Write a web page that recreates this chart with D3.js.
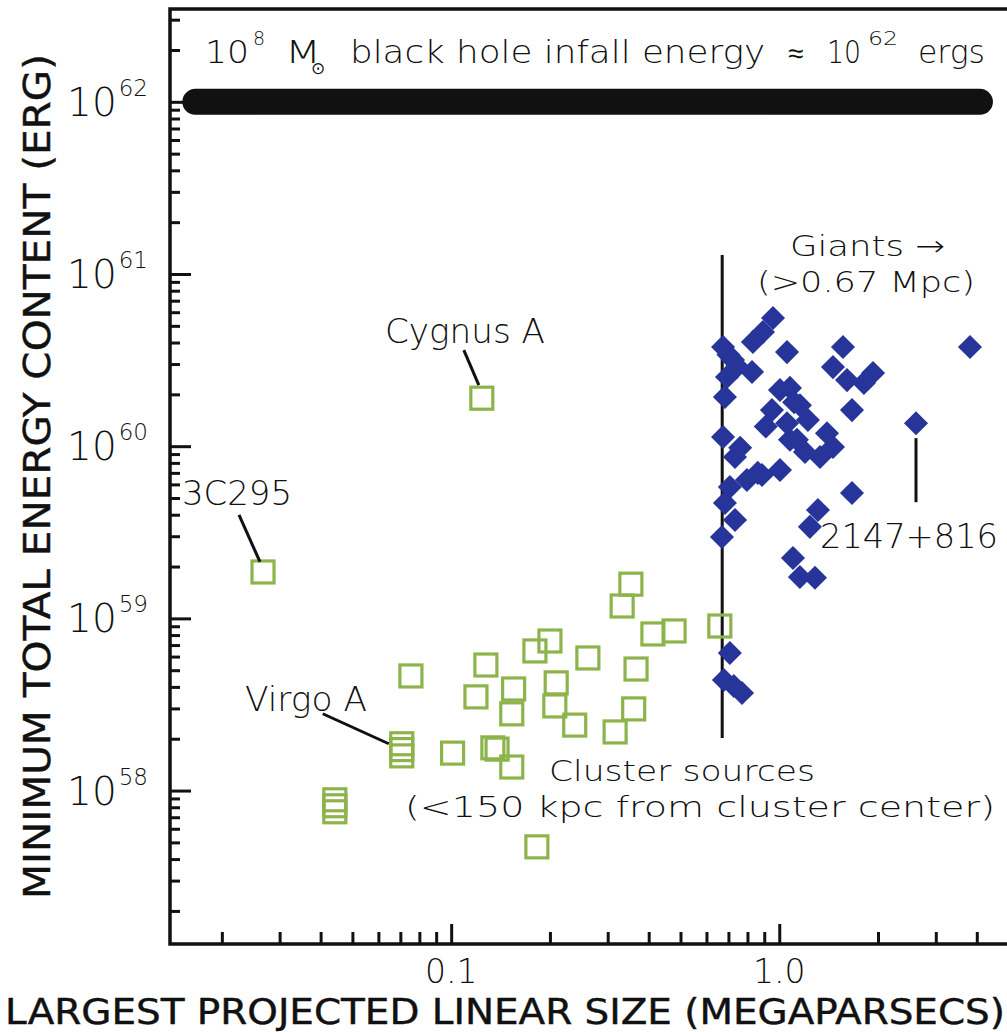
<!DOCTYPE html>
<html><head><meta charset="utf-8">
<script src="https://cdn.jsdelivr.net/npm/d3@7"></script>
<style>body{margin:0;background:#fff}</style>
</head><body><svg id="c" width="1007" height="1032"></svg>
<script>
// ---------- DATA ----------
// Cluster sources (green open squares): size (Mpc), min energy (erg)
const clusterSize = [0.0267, 0.124, 0.0754, 0.1276, 0.119, 0.155, 0.153, 0.180, 0.200, 0.209,
  0.207, 0.238, 0.261, 0.316, 0.360, 0.366, 0.332, 0.353, 0.412, 0.478, 0.659, 0.101, 0.134,
  0.138, 0.153, 0.0707, 0.0707, 0.0707, 0.0442, 0.0442, 0.0442, 0.1825];
const clusterEnergy = [1.86e59, 1.90e60, 4.63e58, 5.36e58, 3.50e58, 3.89e58, 2.79e58, 6.47e58, 7.39e58, 4.22e58,
  3.10e58, 2.40e58, 5.89e58, 2.19e58, 2.98e58, 5.08e58, 1.18e59, 1.58e59, 8.12e58, 8.45e58, 9.03e58, 1.65e58, 1.77e58,
  1.74e58, 1.37e58, 1.87e58, 1.73e58, 1.59e58, 8.84e57, 8.16e57, 7.53e57, 4.71e57];
// Giant sources (blue filled diamonds)
const giantSize = [0.957, 0.892, 0.831, 1.056, 0.674, 0.723, 0.826, 0.693, 0.683, 1.564,
  1.458, 1.609, 1.931, 1.812, 1.666, 1.078, 0.950, 1.056, 1.398, 1.132,
  1.331, 1.005, 0.886, 0.797, 0.674, 0.733, 0.707, 0.683, 0.733, 0.669,
  1.666, 1.312, 1.240, 1.101, 1.156, 1.285, 3.814, 2.611, 0.707, 0.678,
  0.770, 0.727, 1.156, 1.223, 1.078, 1.198, 1.005, 1.458, 0.700, 0.745,
  0.760, 0.910, 1.110, 0.860];
const giantEnergy = [5.55e60, 4.60e60, 4.03e60, 3.52e60, 3.77e60, 3.17e60, 2.70e60, 2.52e60, 1.93e60, 3.77e60,
  2.88e60, 2.42e60, 2.66e60, 2.33e60, 1.62e60, 2.18e60, 1.62e60, 1.36e60, 1.19e60, 1.09e60,
  8.66e59, 7.27e59, 6.80e59, 6.36e59, 1.13e60, 8.66e59, 5.79e59, 4.68e59, 3.73e59, 2.97e59,
  5.35e59, 4.26e59, 3.40e59, 2.24e59, 1.74e59, 1.72e59, 3.77e60, 1.36e60, 6.30e58, 4.39e58,
  3.69e58, 4.05e58, 1.73e60, 1.42e60, 1.09e60, 9.25e59, 2.12e60, 9.9e59, 3.40e60, 2.90e60,
  9.8e59, 1.30e60, 1.80e60, 7.0e59];
// Black-hole infall energy band
const bhSizeRange = [0.0166, 4.09];
const bhEnergy = 1e62;
// Giants cut
const giantsCut = 0.67;
const giantsCutEnergyRange = [2.02e58, 1.29e61];
// Axes
const xDomain = [0.0139, 5.05];
const yDomain = [1.285e57, 3.46e62];
const xMajorTicks = [0.1, 1.0];
const xMajorLabels = ["0.1", "1.0"];
const xMinorTicks = [0.02,0.03,0.04,0.05,0.06,0.07,0.08,0.09,0.2,0.3,0.4,0.5,0.6,0.7,0.8,0.9,2,3,4];
const yMajorExp = [58, 59, 60, 61, 62];
const xTitle = "LARGEST PROJECTED LINEAR SIZE (MEGAPARSECS)";
const yTitle = "MINIMUM TOTAL ENERGY CONTENT (ERG)";

// ---------- DRAW ----------
const svg = d3.select("#c");
svg.append("rect").attr("width",1007).attr("height",1032).attr("fill","#fff");
const L = 170, R = 1010, T = 9, B = 944;
const x = d3.scaleLog().domain(xDomain).range([L, R]);
const y = d3.scaleLog().domain(yDomain).range([B, T]);

const thin = "'DejaVu Sans', sans-serif";
const narrow = "'Liberation Sans Narrow', 'DejaVu Sans Condensed', sans-serif";

// minor ticks
const yMinor = [];
for (let e = 57; e <= 62; e++) for (let m = 2; m <= 9; m++) { const v = m * Math.pow(10, e); if (v > yDomain[0] && v < yDomain[1]) yMinor.push(v); }

const gy = svg.append("g").attr("transform", `translate(${L},0)`);
gy.call(d3.axisRight(y).tickValues(yMinor).tickSize(10).tickFormat(""));
gy.append("g").call(d3.axisRight(y).tickValues(yMajorExp.map(e => Math.pow(10, e))).tickSize(21).tickFormat(""));
const gx = svg.append("g").attr("transform", `translate(0,${B})`);
gx.call(d3.axisTop(x).tickValues(xMinorTicks).tickSize(12).tickFormat(""));
gx.append("g").call(d3.axisTop(x).tickValues(xMajorTicks).tickSize(20).tickFormat(""));
svg.selectAll(".domain").attr("stroke","none");
svg.selectAll(".tick line").attr("stroke","#111").attr("stroke-width",3);

// frame
svg.append("path").attr("d", `M${R},${T}H${L}V${B}H${R}`).attr("fill","none").attr("stroke","#111").attr("stroke-width",3.5);

// tick labels
gx.selectAll(".xl").data(xMajorTicks).enter().append("text")
  .attr("x", (d) => x(d)).attr("y", 39).attr("text-anchor","middle")
  .attr("font-family", thin).attr("font-weight",200).attr("font-size",33).attr("fill","#111")
  .text((d,i) => xMajorLabels[i]);
const yl = svg.selectAll(".yl").data(yMajorExp).enter().append("text")
  .attr("x", 148).attr("y", d => y(Math.pow(10,d)) + 14).attr("text-anchor","end")
  .attr("font-family", thin).attr("font-weight",300).attr("fill","#111");
yl.append("tspan").attr("font-size",39).text("10");
yl.append("tspan").attr("font-size",23).attr("dy",-20).attr("dx",2).text(d => d);

// axis titles
svg.append("text").attr("x", 5).attr("y", 1024).attr("textLength", 1000).attr("lengthAdjust","spacingAndGlyphs")
  .attr("font-family", narrow).attr("font-size", 35).attr("fill","#111").attr("stroke","#111").attr("stroke-width",0.4)
  .text(xTitle);
svg.append("text").attr("transform","translate(50,899) rotate(-90)").attr("textLength", 845).attr("lengthAdjust","spacingAndGlyphs")
  .attr("font-family", narrow).attr("font-size", 38).attr("fill","#111").attr("stroke","#111").attr("stroke-width",0.4)
  .text(yTitle);

// black-hole band
svg.append("line").attr("x1", x(bhSizeRange[0])).attr("x2", x(bhSizeRange[1]))
  .attr("y1", y(bhEnergy)).attr("y2", y(bhEnergy))
  .attr("stroke","#111").attr("stroke-width",26).attr("stroke-linecap","round");

// giants cut line
svg.append("line").attr("x1", x(giantsCut)).attr("x2", x(giantsCut))
  .attr("y1", y(giantsCutEnergyRange[0])).attr("y2", y(giantsCutEnergyRange[1]))
  .attr("stroke","#111").attr("stroke-width",3);

// cluster squares
const sq = 22;
svg.append("g").selectAll("rect").data(clusterSize.map((s,i)=>[s, clusterEnergy[i]])).enter().append("rect")
  .attr("x", d => x(d[0]) - sq/2).attr("y", d => y(d[1]) - sq/2).attr("width", sq).attr("height", sq)
  .attr("fill","none").attr("stroke","#8cb44b").attr("stroke-width",3.2);

// giant diamonds
const dia = d3.symbol(d3.symbolSquare, 290);
svg.append("g").selectAll("path").data(giantSize.map((s,i)=>[s, giantEnergy[i]])).enter().append("path")
  .attr("d", dia).attr("transform", d => `translate(${x(d[0])},${y(d[1])}) rotate(45)`)
  .attr("fill","#27359a");

// annotations
function note(txt, tx, ty, len, size) {
  const t = svg.append("text").attr("x", tx).attr("y", ty).attr("font-family", thin).attr("font-weight",200)
    .attr("font-size", size || 33).attr("fill","#111").text(txt);
  if (len) t.attr("textLength", len).attr("lengthAdjust","spacingAndGlyphs");
  return t;
}
function leader(px, py, dx1, dy1, dx2, dy2) {
  svg.append("line").attr("x1", px+dx1).attr("y1", py+dy1).attr("x2", px+dx2).attr("y2", py+dy2)
    .attr("stroke","#111").attr("stroke-width",3);
}
// Cygnus A (index 1), 3C295 (index 0), Virgo A (index 25), 2147+816 (giant index 37)
note("Cygnus A", 385, 343, 160);
leader(x(clusterSize[1]), y(clusterEnergy[1]), -18, -48, -3, -13);
note("3C295", 182, 505, 110);
leader(x(clusterSize[0]), y(clusterEnergy[0]), -24, -57, -3, -10);
note("Virgo A", 245, 711, 122);
leader(x(clusterSize[25]), y(clusterEnergy[25]), -79, -30, -13, 0);
note("2147+816", 820, 548, 178);
leader(x(giantSize[37]), y(giantEnergy[37]), 0, 15, 0, 79);
note("Giants \u2192", 790, 256, 155, 29);
note("(>0.67 Mpc)", 757, 292, 218, 29);
note("Cluster sources", 549, 781, 266, 29);
note("(<150 kpc from cluster center)", 405, 817, 590, 29);

// top label
note("10", 205, 63, 44, 32);
note("8", 253, 45, null, 19);
note("M", 285, 63, 36, 32);
note("\u2299", 311, 74, null, 17);
note("black hole infall energy", 350, 63, 415, 32);
note("\u2248", 788, 63, null, 28);
note("10", 827, 63, 34, 32);
note("62", 868, 45, 30, 19);
note("ergs", 918, 63, 67, 32);
</script></body></html>
